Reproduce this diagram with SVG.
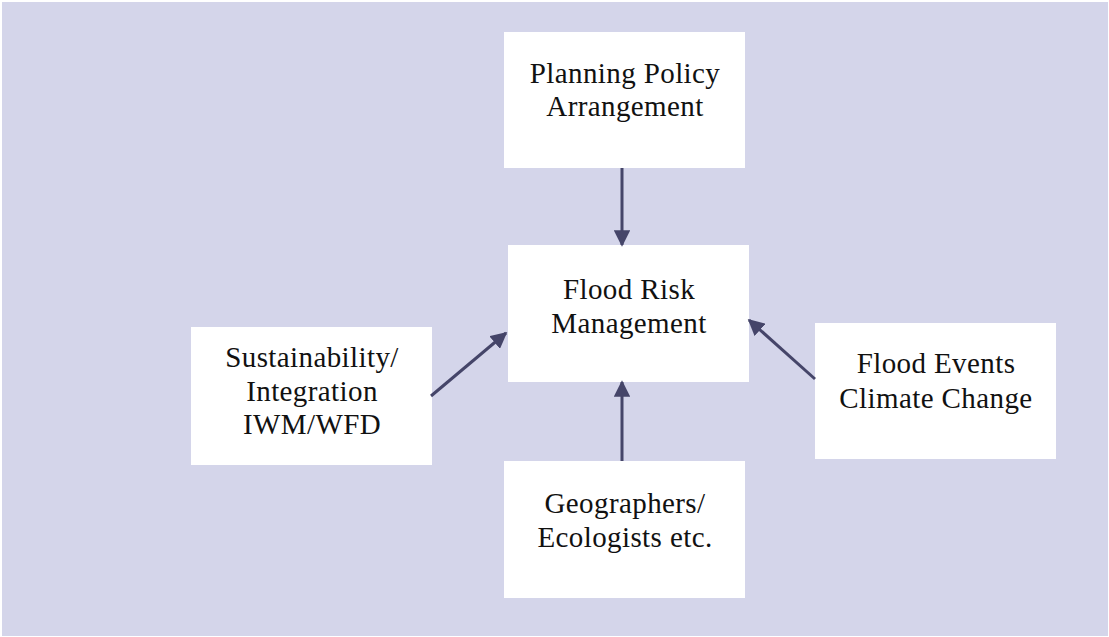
<svg xmlns="http://www.w3.org/2000/svg" width="1109" height="637" viewBox="0 0 1109 637">
<style>
.box{fill:#ffffff}
.t{font-family:"Liberation Serif","Times New Roman",serif;font-size:29px;letter-spacing:0.4px;fill:#111111;text-anchor:middle}
.c{stroke:#454569;stroke-width:3;fill:none}
</style>
<defs>
<marker id="ah" viewBox="0 0 10 10" refX="9" refY="5" markerWidth="5.5" markerHeight="5.5" markerUnits="strokeWidth" orient="auto">
<path d="M0,0 L10,5 L0,10 z" fill="#454569"/>
</marker>
</defs>
<rect x="2" y="2" width="1106" height="634" fill="#d4d5ea"/>
<g id="planning">
<rect class="box" x="504" y="32" width="241" height="136"/>
<text class="t" x="625" y="83">Planning Policy</text>
<text class="t" x="625" y="116">Arrangement</text>
</g>
<g id="frm">
<rect class="box" x="508" y="245" width="241" height="137"/>
<text class="t" x="629" y="299">Flood Risk</text>
<text class="t" x="629" y="333">Management</text>
</g>
<g id="sustainability">
<rect class="box" x="191" y="327" width="241" height="138"/>
<text class="t" x="312" y="367">Sustainability/</text>
<text class="t" x="312" y="401">Integration</text>
<text class="t" x="312" y="434">IWM/WFD</text>
</g>
<g id="geographers">
<rect class="box" x="504" y="461" width="241" height="137"/>
<text class="t" x="625" y="513">Geographers/</text>
<text class="t" x="625" y="547">Ecologists etc.</text>
</g>
<g id="floodevents">
<rect class="box" x="815" y="323" width="241" height="136"/>
<text class="t" x="936" y="373">Flood Events</text>
<text class="t" x="936" y="408">Climate Change</text>
</g>
<g id="connectors">
<line class="c" x1="622" y1="168" x2="622" y2="245" marker-end="url(#ah)"/>
<line class="c" x1="622" y1="461" x2="622" y2="382" marker-end="url(#ah)"/>
<line class="c" x1="431" y1="396" x2="506" y2="333" marker-end="url(#ah)"/>
<line class="c" x1="815" y1="379" x2="749" y2="320" marker-end="url(#ah)"/>
</g>
</svg>
